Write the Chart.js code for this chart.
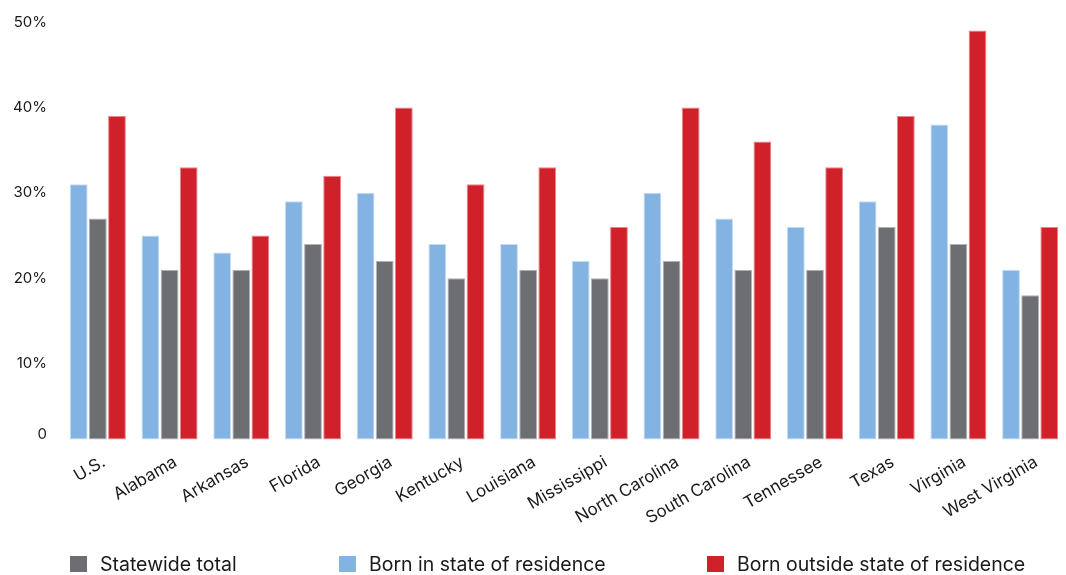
<!DOCTYPE html>
<html>
<head>
<meta charset="utf-8">
<script src="https://cdn.jsdelivr.net/npm/chart.js@4"></script>
<style>
  html, body { margin: 0; padding: 0; background: #fff; overflow: hidden; }
  #wrap { position: relative; width: 1066px; height: 575px; }
  #legend { position: absolute; left: 0; top: 555px; width: 1066px; height: 20px; font-family: Inter, 'Noto Sans', sans-serif; font-size: 19.5px; color: #1a1a1a; }
  .item { position: absolute; top: 0; display: flex; align-items: center; white-space: nowrap; line-height: 18px; }
  .box { width: 17px; height: 16px; margin-right: 13px; }
</style>
</head>
<body>
<div id="wrap"><canvas id="c"></canvas><div id="legend"></div></div>
<script>
const categories = ["U.S.", "Alabama", "Arkansas", "Florida", "Georgia", "Kentucky", "Louisiana", "Mississippi", "North Carolina", "South Carolina", "Tennessee", "Texas", "Virginia", "West Virginia"];
const bornInState = [31, 25, 23, 29, 30, 24, 24, 22, 30, 27, 26, 29, 38, 21];
const statewideTotal = [27, 21, 21, 24, 22, 20, 21, 20, 22, 21, 21, 26, 24, 18];
const bornOutside = [39, 33, 25, 32, 40, 31, 33, 26, 40, 36, 33, 39, 49, 26];
const yTicks = [0, 10, 20, 30, 40, 50];

const FONT = "Inter, 'Noto Sans', sans-serif";
const barBase = 1.1;

const common = {
  borderWidth: 1,
  borderSkipped: false,
  base: barBase,
  categoryPercentage: 0.8,
  barPercentage: 0.93
};

const chart = new Chart(document.getElementById('c'), {
  type: 'bar',
  data: {
    labels: categories,
    datasets: [
      Object.assign({ label: 'Born in state of residence', data: bornInState, backgroundColor: '#82b3e2', borderColor: 'rgba(190,215,240,0.9)' }, common),
      Object.assign({ label: 'Statewide total', data: statewideTotal, backgroundColor: '#6d6e72', borderColor: 'rgba(170,170,175,0.9)' }, common),
      Object.assign({ label: 'Born outside state of residence', data: bornOutside, backgroundColor: '#d0202a', borderColor: 'rgba(230,120,125,0.9)' }, common)
    ]
  },
  options: {
    responsive: true,
    maintainAspectRatio: false,
    animation: false,
    devicePixelRatio: 1,
    layout: { padding: { top: 22, left: 0, right: 0, bottom: 0 } },
    plugins: {
      tooltip: { enabled: false },
      legend: { display: false }
    },
    scales: {
      x: {
        grid: { display: false, drawTicks: false },
        border: { display: false },
        ticks: {
          font: { family: FONT, size: 17 },
          color: '#1a1a1a',
          minRotation: 30,
          maxRotation: 30,
          autoSkip: false,
          padding: 3,
          labelOffset: 6
        },
        afterFit: (s) => { s.height = 126; }
      },
      y: {
        min: 0,
        max: 50,
        afterBuildTicks: (s) => { s.ticks = yTicks.map(v => ({ value: v })); },
        grid: { display: false, drawTicks: false },
        border: { display: false },
        ticks: {
          font: { family: FONT, size: 15, lineHeight: 2 },
          color: '#1a1a1a',
          padding: 15,
          autoSkip: false,
          callback: (v) => v === 0 ? ['0', ''] : v + '%'
        },
        afterFit: (s) => { s.width = 62; s.paddingTop = 0; s.paddingBottom = 0; }
      }
    }
  }
});

// Legend built from the chart's datasets (order: Statewide total, Born in, Born outside)
const legendOrder = [1, 0, 2];
const legendX = [70, 339, 707];
const legendEl = document.getElementById('legend');
legendOrder.forEach((di, k) => {
  const ds = chart.data.datasets[di];
  const item = document.createElement('div');
  item.className = 'item';
  item.style.left = legendX[k] + 'px';
  const box = document.createElement('span');
  box.className = 'box';
  box.style.background = ds.backgroundColor;
  const txt = document.createElement('span');
  txt.textContent = ds.label;
  item.appendChild(box);
  item.appendChild(txt);
  legendEl.appendChild(item);
});
</script>
</body>
</html>
